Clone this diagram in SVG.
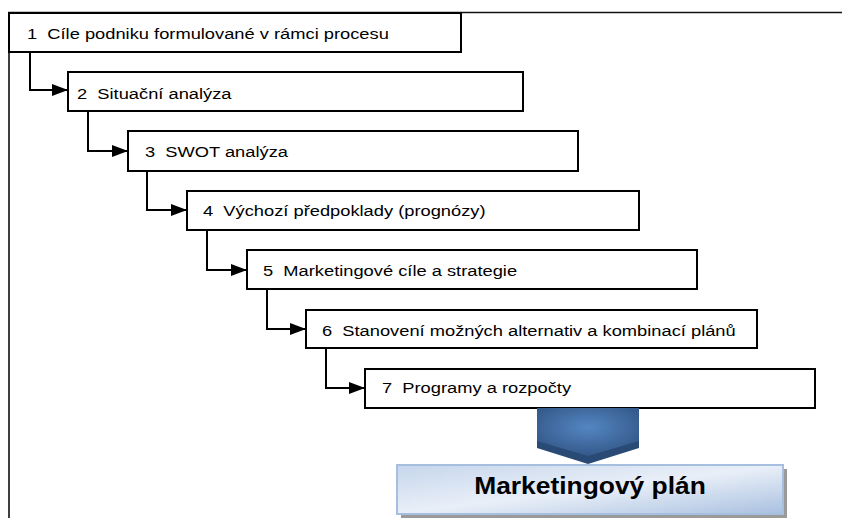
<svg xmlns="http://www.w3.org/2000/svg" width="842" height="518" viewBox="0 0 842 518">
  <style>
    .frame { fill: none; stroke: #111; stroke-width: 1.6; }
    .box { fill: #fff; stroke: #000; stroke-width: 2; }
    .step { font-family: "Liberation Sans", Arial, sans-serif; font-size: 15px; fill: #000; white-space: pre; }
    .conn { fill: none; stroke: #000; stroke-width: 2; }
    .title { font-family: "Liberation Sans", Arial, sans-serif; font-size: 24px; font-weight: bold; fill: #000; text-anchor: middle; }
  </style>
  <defs>
    <marker id="arrow" markerUnits="userSpaceOnUse" markerWidth="16" markerHeight="12" refX="16" refY="6" orient="auto">
      <path d="M0,0 L16,6 L0,12 z" fill="#000"/>
    </marker>
    <radialGradient id="chevFill" cx="0.5" cy="0.4" r="0.6">
      <stop offset="0" stop-color="#5486c2"/>
      <stop offset="1" stop-color="#34598a"/>
    </radialGradient>
    <linearGradient id="planFill" x1="0" y1="0" x2="1" y2="1">
      <stop offset="0" stop-color="#c6d6ec"/>
      <stop offset="0.5" stop-color="#e9eff8"/>
      <stop offset="1" stop-color="#a9c0e0"/>
    </linearGradient>
  </defs>

  <rect width="842" height="518" fill="#fff"/>

  <!-- outer frame, only the top and left edges fall inside the page -->
  <path class="frame" d="M9,518 V12.5 H842"/>

  <g id="connectors">
    <path class="conn" d="M30,52 V90 H68" marker-end="url(#arrow)"/>
    <path class="conn" d="M88,111 V151 H128" marker-end="url(#arrow)"/>
    <path class="conn" d="M147,171 V210 H187" marker-end="url(#arrow)"/>
    <path class="conn" d="M207,230 V270 H247" marker-end="url(#arrow)"/>
    <path class="conn" d="M267,289 V329 H306" marker-end="url(#arrow)"/>
    <path class="conn" d="M326,348 V388 H365" marker-end="url(#arrow)"/>
  </g>

  <g id="step1">
    <rect class="box" x="9" y="13" width="452" height="39"/>
    <text class="step" transform="translate(27,39) scale(1.22,1)">1  Cíle podniku formulované v rámci procesu</text>
  </g>
  <g id="step2">
    <rect class="box" x="68" y="72" width="455" height="39"/>
    <text class="step" transform="translate(77,99) scale(1.22,1)">2  Situační analýza</text>
  </g>
  <g id="step3">
    <rect class="box" x="128" y="131" width="450" height="40"/>
    <text class="step" transform="translate(145,157) scale(1.22,1)">3  SWOT analýza</text>
  </g>
  <g id="step4">
    <rect class="box" x="187" y="191" width="452" height="39"/>
    <text class="step" transform="translate(203,216) scale(1.22,1)">4  Výchozí předpoklady (prognózy)</text>
  </g>
  <g id="step5">
    <rect class="box" x="247" y="250" width="450" height="39"/>
    <text class="step" transform="translate(263,276) scale(1.22,1)">5  Marketingové cíle a strategie</text>
  </g>
  <g id="step6">
    <rect class="box" x="306" y="310" width="451" height="38"/>
    <text class="step" transform="translate(322,336) scale(1.22,1)">6  Stanovení možných alternativ a kombinací plánů</text>
  </g>
  <g id="step7">
    <rect class="box" x="365" y="369" width="450" height="39"/>
    <text class="step" transform="translate(382,393) scale(1.22,1)">7  Programy a rozpočty</text>
  </g>

  <g id="down-arrow">
    <polygon points="537,408 639,408 639,448 588,464 537,448" fill="#2a4a76"/>
    <polygon points="537,408 639,408 639,441 588,456 537,441" fill="url(#chevFill)"/>
  </g>

  <g id="plan">
    <rect x="401" y="469" width="386" height="49" fill="#9a9a9a"/>
    <rect x="397" y="465" width="386" height="49" fill="url(#planFill)" stroke="#a7bfde" stroke-width="2"/>
    <text class="title" transform="translate(590,494) scale(1.1,1)">Marketingový plán</text>
  </g>
</svg>
